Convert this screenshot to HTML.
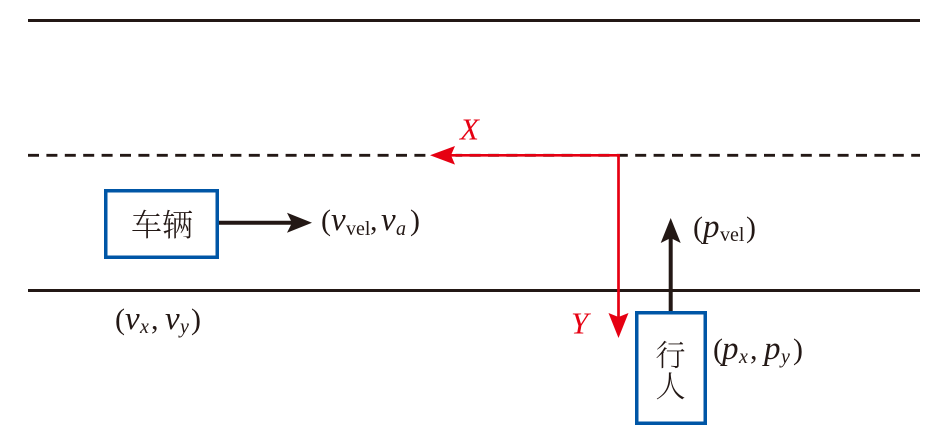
<!DOCTYPE html>
<html>
<head>
<meta charset="utf-8">
<style>
html,body{margin:0;padding:0;background:#fff;}
svg{display:block;}
.t{font-family:"Liberation Serif","Noto Serif CJK SC",serif;fill:#231815;}
.i{font-style:italic;}
.cjk{font-family:"Noto Serif CJK SC","Noto Sans CJK SC",serif;fill:#231815;font-weight:300;}
</style>
</head>
<body>
<svg width="949" height="443" viewBox="0 0 949 443" xmlns="http://www.w3.org/2000/svg">
  <rect x="0" y="0" width="949" height="443" fill="#fff"/>
  <!-- road lines -->
  <line x1="28" y1="20.5" x2="920" y2="20.5" stroke="#231815" stroke-width="3"/>
  <line x1="28" y1="155.3" x2="920" y2="155.3" stroke="#231815" stroke-width="2.8" stroke-dasharray="11 7.4"/>
  <rect x="425.5" y="150" width="30" height="11" fill="#fff"/>
  <line x1="28" y1="290.5" x2="920" y2="290.5" stroke="#231815" stroke-width="3"/>

  <!-- red axes -->
  <line x1="451" y1="155.3" x2="619.8" y2="155.3" stroke="#e60012" stroke-width="2.7"/>
  <line x1="618.5" y1="154" x2="618.5" y2="318" stroke="#e60012" stroke-width="2.7"/>
  <polygon points="430,155.3 455,146 451,155.3 455,164.6" fill="#e60012"/>
  <polygon points="618.5,338 608.5,313 618.5,317 628.5,313" fill="#e60012"/>
  <text x="460" y="139.5" class="t i" font-size="31" style="fill:#e60012">X</text>
  <text x="571" y="333.5" class="t i" font-size="31" style="fill:#e60012">Y</text>

  <!-- vehicle box -->
  <rect x="105.75" y="190.75" width="111.5" height="66.5" fill="none" stroke="#0056a6" stroke-width="3.5"/>
  <text x="162" y="236" class="cjk" font-size="31" text-anchor="middle">车辆</text>
  <line x1="219" y1="222.7" x2="292" y2="222.7" stroke="#231815" stroke-width="4"/>
  <polygon points="312,222.7 287,212.7 292,222.7 287,232.7" fill="#231815"/>

  <!-- pedestrian box -->
  <rect x="636.75" y="312.75" width="68.5" height="110.5" fill="none" stroke="#0056a6" stroke-width="3.5"/>
  <text x="670.5" y="366" class="cjk" font-size="30" text-anchor="middle">行</text>
  <text x="670.5" y="397" class="cjk" font-size="30" text-anchor="middle">人</text>
  <line x1="670.7" y1="311" x2="670.7" y2="238" stroke="#231815" stroke-width="4"/>
  <polygon points="670.7,218 660.7,243 670.7,238 680.7,243" fill="#231815"/>

  <!-- (v_vel, v_a) -->
  <text x="321" y="230" class="t" font-size="30">(</text>
  <text x="331" y="230" class="t i" font-size="33">v</text>
  <text x="346" y="235" class="t" font-size="20">vel</text>
  <text x="370" y="230" class="t" font-size="30">,</text>
  <text x="381" y="230" class="t i" font-size="33">v</text>
  <text x="396" y="235" class="t i" font-size="20">a</text>
  <text x="410" y="230" class="t" font-size="30">)</text>

  <!-- (v_x, v_y) -->
  <text x="115" y="329" class="t" font-size="30">(</text>
  <text x="125" y="329" class="t i" font-size="33">v</text>
  <text x="140" y="333" class="t i" font-size="20">x</text>
  <text x="151" y="329" class="t" font-size="30">,</text>
  <text x="165" y="329" class="t i" font-size="33">v</text>
  <text x="180" y="333" class="t i" font-size="20">y</text>
  <text x="191" y="329" class="t" font-size="30">)</text>

  <!-- (p_vel) -->
  <text x="693" y="237" class="t" font-size="30">(</text>
  <text x="703" y="237" class="t i" font-size="33">p</text>
  <text x="720" y="241" class="t" font-size="20">vel</text>
  <text x="746" y="237" class="t" font-size="30">)</text>

  <!-- (p_x, p_y) -->
  <text x="713" y="359" class="t" font-size="30">(</text>
  <text x="722" y="359" class="t i" font-size="33">p</text>
  <text x="739" y="363" class="t i" font-size="20">x</text>
  <text x="750" y="359" class="t" font-size="30">,</text>
  <text x="764" y="359" class="t i" font-size="33">p</text>
  <text x="781" y="363" class="t i" font-size="20">y</text>
  <text x="793" y="359" class="t" font-size="30">)</text>
</svg>
</body>
</html>
